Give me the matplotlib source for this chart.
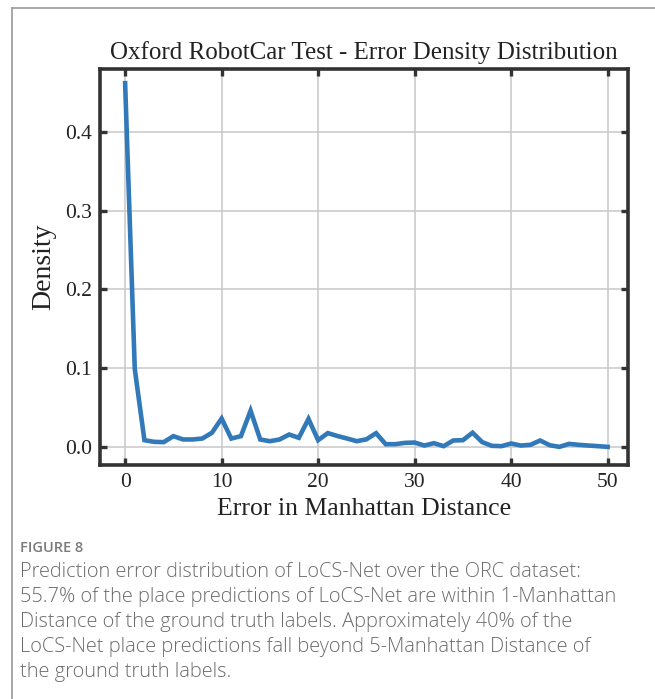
import matplotlib
matplotlib.use("Agg")
import matplotlib.pyplot as plt
from matplotlib.lines import Line2D

# error in Manhattan distance vs density
errors = list(range(51))
density = [
    0.462, 0.099, 0.0085, 0.0064, 0.006, 0.0136, 0.0094, 0.0094, 0.0106, 0.018,
    0.036, 0.0106, 0.0136, 0.046, 0.0094, 0.0072, 0.0094, 0.0157, 0.0115, 0.0355,
    0.0085, 0.0175, 0.0138, 0.0106, 0.0072, 0.0096, 0.0174, 0.0034, 0.0034, 0.0051,
    0.0055, 0.0017, 0.0047, 0.0009, 0.0081, 0.0085, 0.018, 0.006, 0.0013, 0.0009,
    0.0043, 0.0017, 0.0026, 0.0081, 0.0021, 0.0, 0.0038, 0.0026, 0.0017, 0.0009,
    0.0,
]
xticks = [0, 10, 20, 30, 40, 50]
yticks = [0.0, 0.1, 0.2, 0.3, 0.4]

title = "Oxford RobotCar Test - Error Density Distribution"
caption_head = "FIGURE 8"
caption_lines = [
    "Prediction error distribution of LoCS-Net over the ORC dataset:",
    "55.7% of the place predictions of LoCS-Net are within 1-Manhattan",
    "Distance of the ground truth labels. Approximately 40% of the",
    "LoCS-Net place predictions fall beyond 5-Manhattan Distance of",
    "the ground truth labels.",
]

serif = ["Liberation Serif", "DejaVu Serif"]

fig = plt.figure(figsize=(6.55, 6.99), dpi=100)
ax = fig.add_axes([0.1527, 0.3348, 0.806, 0.5665])

ax.plot(errors, density, color="#3179b8", lw=3.3, solid_joinstyle="miter")
ax.set_xlim(-2.6, 52.1)
ax.set_ylim(-0.023, 0.48)
ax.set_xticks(xticks)
ax.set_yticks(yticks)
ax.set_yticklabels([f"{v:.1f}" for v in yticks])
ax.grid(True, color="#c8c8cc", lw=1.1)
ax.set_axisbelow(True)

for s in ax.spines.values():
    s.set_linewidth(2.6)
    s.set_color("#333333")
ax.tick_params(direction="in", length=5, width=2.4, color="#333333",
               top=True, right=True, labelsize=15.5, pad=6)
for lbl in ax.get_xticklabels() + ax.get_yticklabels():
    lbl.set_family(serif)
    lbl.set_color("#222222")

ax.set_title(title, family=serif, fontsize=18, color="#222222", pad=7)
ax.set_xlabel("Error in Manhattan Distance", family=serif, fontsize=18.5,
              color="#222222", labelpad=4)
ax.set_ylabel("Density", family=serif, fontsize=20, color="#222222",
              labelpad=6)

# page frame lines
fig.add_artist(Line2D([12 / 655, 12 / 655], [0, 1 - 8 / 699],
                      transform=fig.transFigure, color="#a0a0a0", lw=1.3))
fig.add_artist(Line2D([12 / 655, 1], [1 - 8 / 699, 1 - 8 / 699],
                      transform=fig.transFigure, color="#a0a0a0", lw=1.3))

sans = ["Open Sans", "DejaVu Sans"]
fig.text(20 / 655, 1 - 548 / 699, caption_head, family=sans, fontsize=10.5,
         weight="semibold", color="#7a7a7a", va="center")
for i, line in enumerate(caption_lines):
    fig.text(20 / 655, 1 - (572 + 25 * i) / 699, line, family=sans,
             fontsize=14.4, weight="light", color="#6b6b6b", va="center")

fig.savefig("out.png", dpi=100)
